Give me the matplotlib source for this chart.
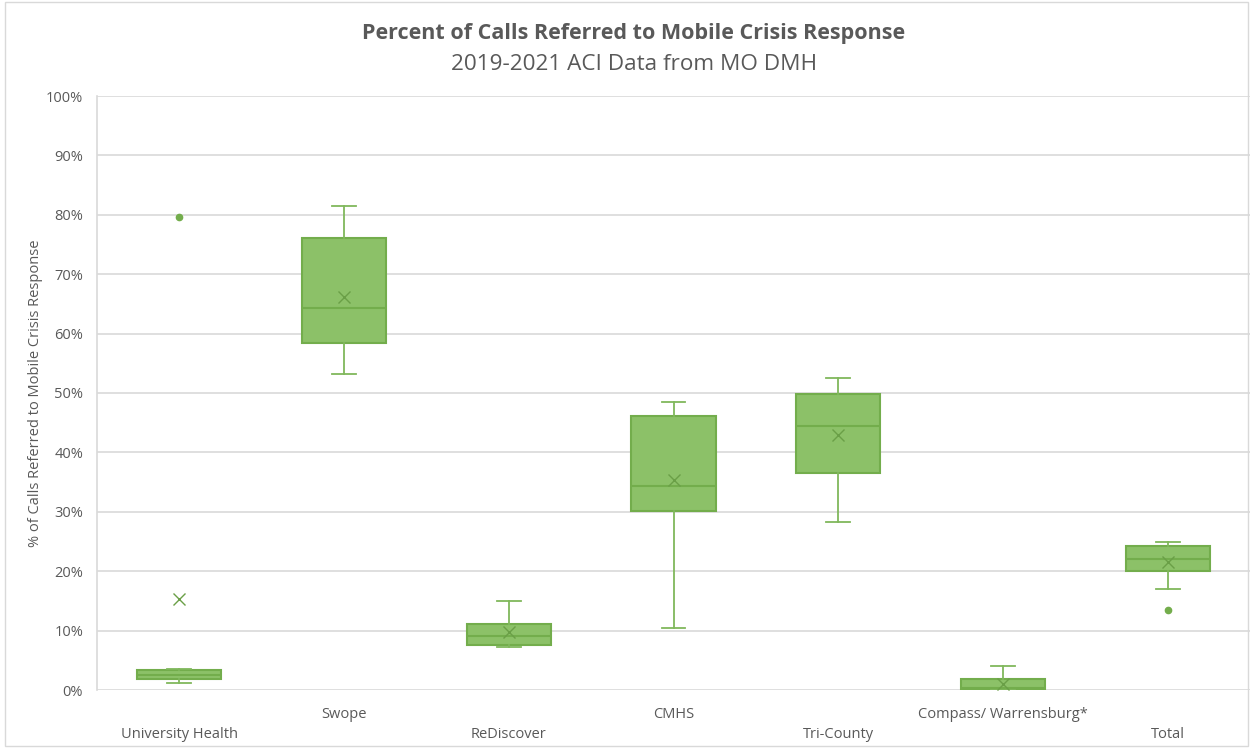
import matplotlib
matplotlib.use("Agg")
import matplotlib.pyplot as plt
from matplotlib.patches import Rectangle

# ---- data (percent) ----
categories = ["University Health", "Swope", "ReDiscover", "CMHS", "Tri-County",
              "Compass/ Warrensburg*", "Total"]
whisker_low = [1.2, 53.2, 7.2, 10.5, 28.3, 0.0, 17.0]
q1 = [1.9, 58.5, 7.5, 30.1, 36.5, 0.0, 20.0]
median = [2.6, 64.3, 9.1, 34.3, 44.4, 0.3, 22.1]
q3 = [3.4, 76.1, 11.1, 46.1, 49.8, 1.9, 24.2]
whisker_high = [3.6, 81.5, 14.9, 48.5, 52.6, 4.0, 24.9]
means = [15.4, 66.2, 9.8, 35.4, 42.9, 1.0, 21.5]
outliers = [[79.7], [], [], [], [], [], [13.5]]
yticks = [0, 10, 20, 30, 40, 50, 60, 70, 80, 90, 100]

FILL = "#8CC168"
EDGE = "#73AD4C"
WHISK = "#80B85C"
TEXT = "#595959"
GRID = "#D9D9D9"

plt.rcParams['font.family'] = ['Open Sans', 'DejaVu Sans']

fig = plt.figure(figsize=(12.53, 7.48), dpi=100)
ax = fig.add_axes([97/1253, 1-690/748, (1250-97)/1253, (690-96)/748])

stats = []
for i in range(len(categories)):
    stats.append(dict(label=categories[i], whislo=whisker_low[i], q1=q1[i], med=median[i],
                      q3=q3[i], whishi=whisker_high[i], mean=means[i], fliers=outliers[i]))

positions = list(range(len(categories)))
ax.bxp(stats, positions=positions, widths=0.51, capwidths=0.145, showmeans=True,
       patch_artist=True, showfliers=True,
       boxprops=dict(facecolor=FILL, edgecolor=EDGE, linewidth=1.5),
       medianprops=dict(color=EDGE, linewidth=1.5),
       whiskerprops=dict(color=WHISK, linewidth=1.3),
       capprops=dict(color=WHISK, linewidth=1.3),
       meanprops=dict(marker='x', markeredgecolor="#6A9F47", markersize=9, markeredgewidth=1.0),
       flierprops=dict(marker='o', markerfacecolor=EDGE, markeredgecolor=EDGE, markersize=4.5))

ax.set_xlim(-0.5, len(categories) - 0.5)
ax.set_ylim(0, 100)
ax.set_yticks(yticks)
ax.set_yticklabels([f"{t}%" for t in yticks], color=TEXT, fontsize=10.5)
ax.tick_params(axis='y', length=0, pad=10)
ax.tick_params(axis='x', length=0)
ax.set_xticks(positions)
ax.set_xticklabels([])
ax.yaxis.grid(True, color=GRID, linewidth=1.2)
ax.set_axisbelow(True)
for s in ['top', 'right', 'bottom']:
    ax.spines[s].set_visible(False)
ax.spines['left'].set_color(GRID)
ax.spines['left'].set_linewidth(1.2)

for i, c in enumerate(categories):
    yoff = -0.075 if i % 2 == 0 else -0.041
    ax.text(i, yoff, c, transform=ax.get_xaxis_transform(), ha='center', va='center',
            color=TEXT, fontsize=10.5)

ax.set_ylabel("% of Calls Referred to Mobile Crisis Response", color=TEXT, fontsize=10.5, labelpad=2)

fig.text(634/1253, 1-33/748, "Percent of Calls Referred to Mobile Crisis Response",
         ha='center', va='center', fontsize=15.5, fontweight='bold', color=TEXT)
fig.text(634/1253, 1-64/748, "2019-2021 ACI Data from MO DMH",
         ha='center', va='center', fontsize=16.2, color=TEXT)

fig.patches.append(Rectangle((0.004, 0.003), 0.992, 0.994, transform=fig.transFigure,
                             fill=False, edgecolor=GRID, linewidth=1.0))

fig.savefig("out.png", dpi=100)
